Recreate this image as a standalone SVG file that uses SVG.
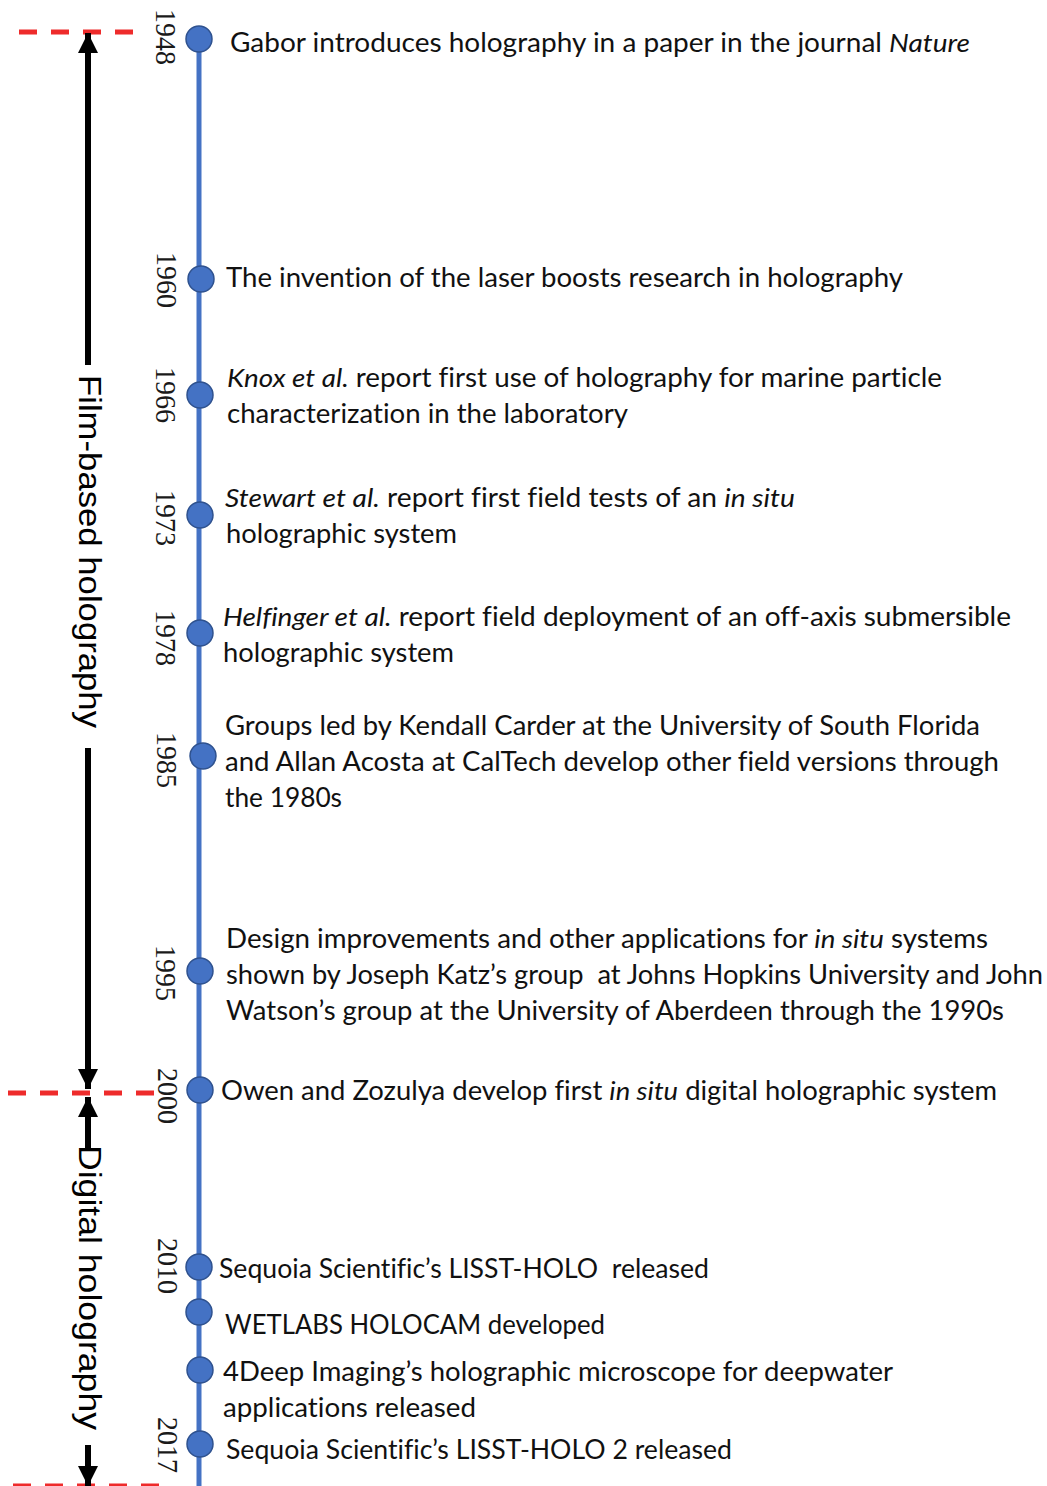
<svg xmlns="http://www.w3.org/2000/svg" width="1047" height="1486" viewBox="0 0 1047 1486">
<defs>
<marker id="ah" viewBox="0 0 20 20" markerWidth="20" markerHeight="20" refX="20" refY="10" orient="auto" markerUnits="userSpaceOnUse">
<path d="M0,0 L20,10 L0,20 Z" fill="#000"/>
</marker>
</defs>
<style>
.ev{font-family:Lato,"Open Sans",sans-serif;font-size:26px;fill:#111;white-space:pre;font-variant-ligatures:none}
.yr{font-family:"Liberation Serif",serif;font-size:30px;fill:#1a1a1a}
.era{font-family:"Liberation Sans",Arial,sans-serif;font-size:31px;fill:#000}
.dash{stroke:#ee2b2b;stroke-width:5;stroke-dasharray:18 14;fill:none}
.arr{stroke:#000;stroke-width:6;fill:none}
.dot{fill:#4472c4;stroke:#2f528f;stroke-width:1.5}
.it{font-style:italic}
</style>
<rect width="1047" height="1486" fill="#fff"/>
<g id="connectors">
<line x1="199" y1="40" x2="199" y2="1486" stroke="#4472c4" stroke-width="5"/>
<line class="dash" x1="19" y1="32" x2="135" y2="32"/>
<line class="dash" x1="8" y1="1093" x2="158" y2="1093"/>
<line class="dash" x1="13" y1="1486" x2="160" y2="1486"/>
<line class="arr" x1="88" y1="365" x2="88" y2="33" marker-end="url(#ah)"/>
<line class="arr" x1="88" y1="748" x2="88" y2="1089" marker-end="url(#ah)"/>
<line class="arr" x1="88" y1="1148" x2="88" y2="1097" marker-end="url(#ah)"/>
<line class="arr" x1="88" y1="1445" x2="88" y2="1486" marker-end="url(#ah)"/>
</g>
<g id="eras">
<text class="era" transform="translate(79,375) rotate(90)" textLength="353" lengthAdjust="spacingAndGlyphs">Film-based holography</text>
<text class="era" transform="translate(79,1145) rotate(90)" textLength="285" lengthAdjust="spacingAndGlyphs">Digital holography</text>
</g>
<g id="e1948">
<circle class="dot" cx="199" cy="39" r="13"/>
<text class="yr" transform="translate(156,9) rotate(90)" textLength="56" lengthAdjust="spacingAndGlyphs">1948</text>
<text class="ev" x="230" y="52" textLength="740" lengthAdjust="spacingAndGlyphs">Gabor introduces holography in a paper in the journal <tspan class="it">Nature</tspan></text>
</g>
<g id="e1960">
<circle class="dot" cx="201" cy="279" r="13"/>
<text class="yr" transform="translate(157,252) rotate(90)" textLength="56" lengthAdjust="spacingAndGlyphs">1960</text>
<text class="ev" x="226" y="287" textLength="677" lengthAdjust="spacingAndGlyphs">The invention of the laser boosts research in holography</text>
</g>
<g id="e1966">
<circle class="dot" cx="200" cy="395" r="13"/>
<text class="yr" transform="translate(156,367) rotate(90)" textLength="56" lengthAdjust="spacingAndGlyphs">1966</text>
<text class="ev" x="227" y="387" textLength="715" lengthAdjust="spacingAndGlyphs"><tspan class="it">Knox et al.</tspan> report first use of holography for marine particle</text>
<text class="ev" x="227" y="423" textLength="401" lengthAdjust="spacingAndGlyphs">characterization in the laboratory</text>
</g>
<g id="e1973">
<circle class="dot" cx="200" cy="515" r="13"/>
<text class="yr" transform="translate(156,490) rotate(90)" textLength="56" lengthAdjust="spacingAndGlyphs">1973</text>
<text class="ev" x="225" y="507" textLength="570" lengthAdjust="spacingAndGlyphs"><tspan class="it">Stewart et al.</tspan> report first field tests of an <tspan class="it">in situ</tspan></text>
<text class="ev" x="226" y="543" textLength="231" lengthAdjust="spacingAndGlyphs">holographic system</text>
</g>
<g id="e1978">
<circle class="dot" cx="200" cy="633" r="13"/>
<text class="yr" transform="translate(156,610) rotate(90)" textLength="56" lengthAdjust="spacingAndGlyphs">1978</text>
<text class="ev" x="223" y="626" textLength="788" lengthAdjust="spacingAndGlyphs"><tspan class="it">Helfinger et al.</tspan> report field deployment of an off-axis submersible</text>
<text class="ev" x="223" y="662" textLength="231" lengthAdjust="spacingAndGlyphs">holographic system</text>
</g>
<g id="e1985">
<circle class="dot" cx="203" cy="756" r="13"/>
<text class="yr" transform="translate(157,732) rotate(90)" textLength="56" lengthAdjust="spacingAndGlyphs">1985</text>
<text class="ev" x="225" y="735" textLength="755" lengthAdjust="spacingAndGlyphs">Groups led by Kendall Carder at the University of South Florida</text>
<text class="ev" x="225" y="771" textLength="774" lengthAdjust="spacingAndGlyphs">and Allan Acosta at CalTech develop other field versions through</text>
<text class="ev" x="225" y="807" textLength="117" lengthAdjust="spacingAndGlyphs">the 1980s</text>
</g>
<g id="e1995">
<circle class="dot" cx="200" cy="971" r="13"/>
<text class="yr" transform="translate(156,945) rotate(90)" textLength="56" lengthAdjust="spacingAndGlyphs">1995</text>
<text class="ev" x="226" y="948" textLength="762" lengthAdjust="spacingAndGlyphs">Design improvements and other applications for <tspan class="it">in situ</tspan> systems</text>
<text class="ev" x="226" y="984" textLength="817" lengthAdjust="spacingAndGlyphs">shown by Joseph Katz’s group  at Johns Hopkins University and John</text>
<text class="ev" x="226" y="1020" textLength="778" lengthAdjust="spacingAndGlyphs">Watson’s group at the University of Aberdeen through the 1990s</text>
</g>
<g id="e2000">
<circle class="dot" cx="200" cy="1090" r="13"/>
<text class="yr" transform="translate(158,1068) rotate(90)" textLength="56" lengthAdjust="spacingAndGlyphs">2000</text>
<text class="ev" x="221" y="1100" textLength="776" lengthAdjust="spacingAndGlyphs">Owen and Zozulya develop first <tspan class="it">in situ</tspan> digital holographic system</text>
</g>
<g id="e2010">
<circle class="dot" cx="199" cy="1267" r="13"/>
<text class="yr" transform="translate(158,1238) rotate(90)" textLength="56" lengthAdjust="spacingAndGlyphs">2010</text>
<text class="ev" x="219" y="1278" textLength="490" lengthAdjust="spacingAndGlyphs">Sequoia Scientific’s LISST-HOLO  released</text>
</g>
<g id="e-wetlabs">
<circle class="dot" cx="199" cy="1312" r="13"/>
<text class="ev" x="225" y="1334" textLength="380" lengthAdjust="spacingAndGlyphs">WETLABS HOLOCAM developed</text>
</g>
<g id="e-4deep">
<circle class="dot" cx="200" cy="1370" r="13"/>
<text class="ev" x="223" y="1381" textLength="670" lengthAdjust="spacingAndGlyphs">4Deep Imaging’s holographic microscope for deepwater</text>
<text class="ev" x="223" y="1417" textLength="253" lengthAdjust="spacingAndGlyphs">applications released</text>
</g>
<g id="e2017">
<circle class="dot" cx="200" cy="1444" r="13"/>
<text class="yr" transform="translate(158,1417) rotate(90)" textLength="56" lengthAdjust="spacingAndGlyphs">2017</text>
<text class="ev" x="226" y="1459" textLength="506" lengthAdjust="spacingAndGlyphs">Sequoia Scientific’s LISST-HOLO 2 released</text>
</g>
</svg>
